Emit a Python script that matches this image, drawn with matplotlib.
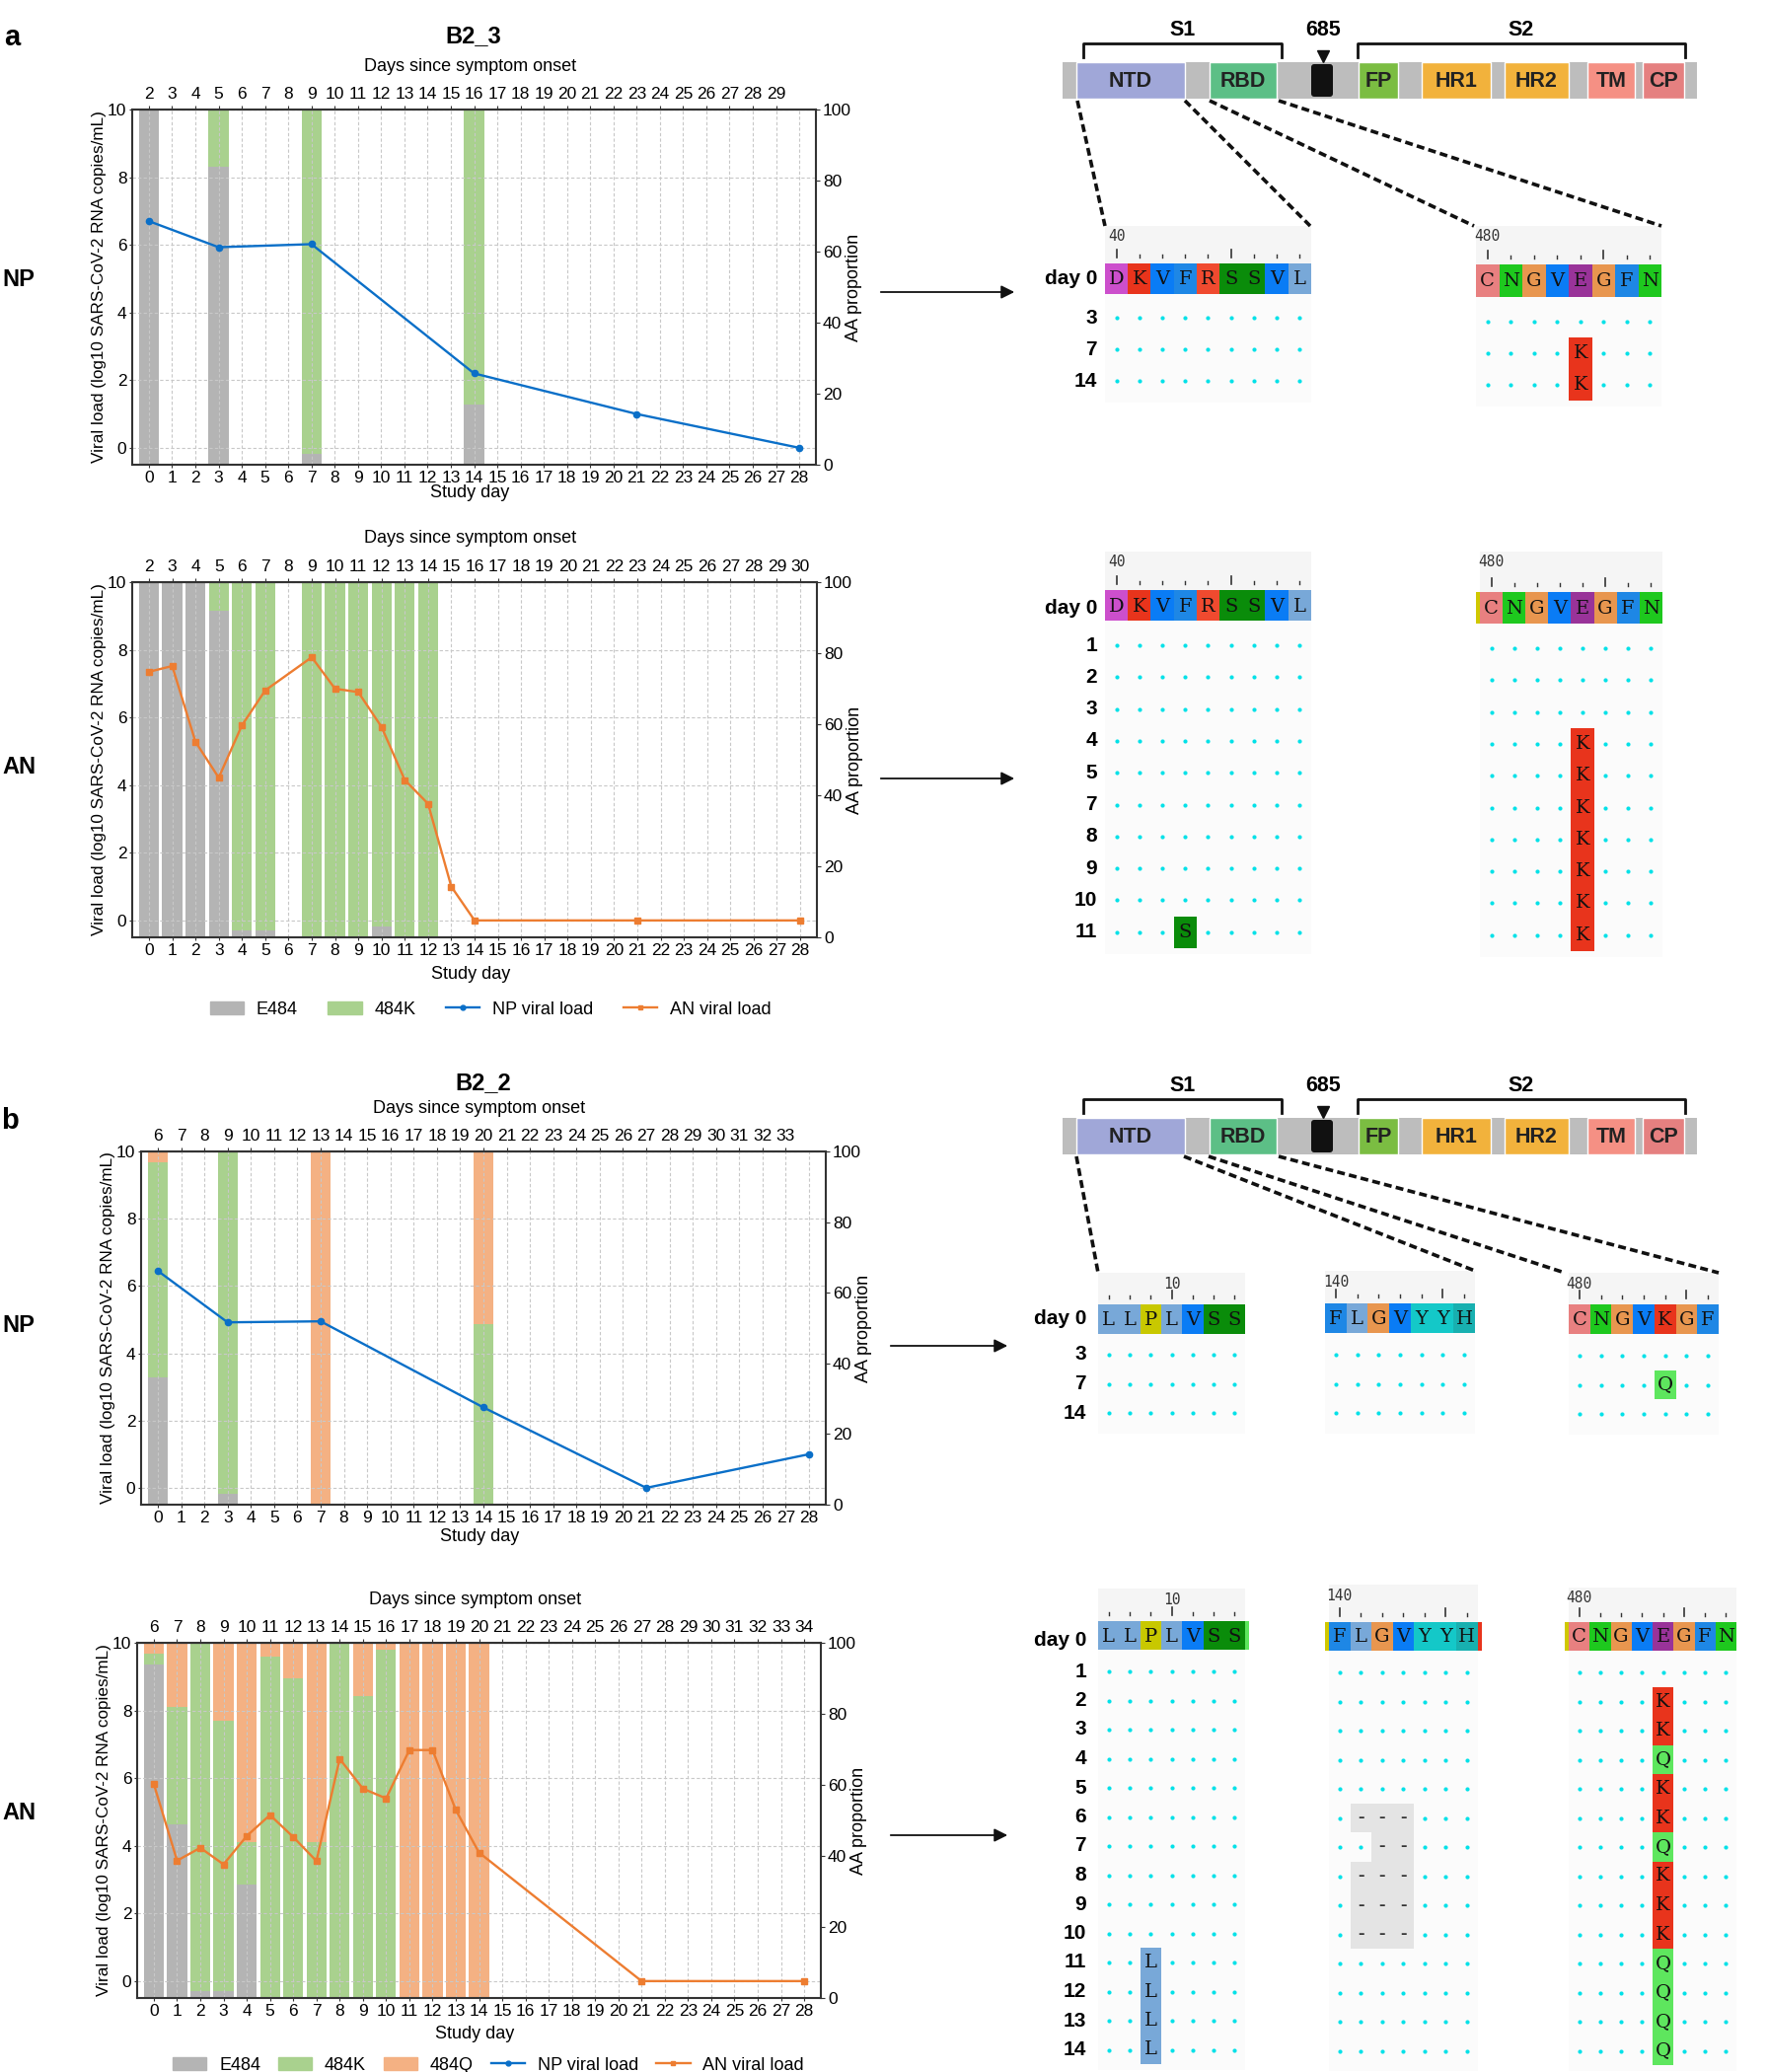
import matplotlib
matplotlib.use("Agg")
import matplotlib.pyplot as plt
from matplotlib.patches import Rectangle, Patch, FancyBboxPatch
from matplotlib.lines import Line2D

plt.rcParams["font.family"] = ["Liberation Sans", "DejaVu Sans"]

W, H = 1792, 2100

# ---------------- data: viral load / AA proportion ----------------
A_NP_DAYS = [0, 3, 7, 14, 21, 28]
A_NP_LOAD = [6.7, 5.93, 6.02, 2.2, 1.0, 0.0]
A_NP_BAR_DAYS = [0, 3, 7, 14]
A_NP_E484 = [100, 84, 3, 17]
A_NP_484K = [0, 16, 97, 83]
A_NP_ONSET = list(range(2, 30))

A_AN_DAYS = [0, 1, 2, 3, 4, 5, 7, 8, 9, 10, 11, 12, 13, 14, 21, 28]
A_AN_LOAD = [7.35, 7.52, 5.28, 4.22, 5.77, 6.8, 7.78, 6.85, 6.75, 5.72, 4.15, 3.45, 1.0, 0.0, 0.0, 0.0]
A_AN_BAR_DAYS = [0, 1, 2, 3, 4, 5, 7, 8, 9, 10, 11, 12]
A_AN_E484 = [100, 100, 100, 92, 2, 2, 0, 0, 0, 3, 0, 0]
A_AN_484K = [0, 0, 0, 8, 98, 98, 100, 100, 100, 97, 100, 100]
A_AN_ONSET = list(range(2, 31))

B_NP_DAYS = [0, 3, 7, 14, 21, 28]
B_NP_LOAD = [6.45, 4.92, 4.95, 2.39, 0.0, 1.0]
B_NP_BAR_DAYS = [0, 3, 7, 14]
B_NP_E484 = [36, 3, 0, 0]
B_NP_484K = [61, 97, 0, 51]
B_NP_484Q = [3, 0, 100, 49]
B_NP_ONSET = list(range(6, 34))

B_AN_DAYS = list(range(15)) + [21, 28]
B_AN_LOAD = [5.82, 3.56, 3.94, 3.45, 4.29, 4.91, 4.26, 3.55, 6.57, 5.69, 5.40,
             6.83, 6.83, 5.06, 3.80, 0.0, 0.0]
B_AN_BAR_DAYS = list(range(15))
B_AN_E484 = [94, 49, 2, 2, 32, 0, 0, 0, 0, 0, 0, 0, 0, 0, 0]
B_AN_484K = [3, 33, 98, 76, 12, 96, 90, 44, 100, 85, 98, 0, 0, 0, 0]
B_AN_484Q = [3, 18, 0, 22, 56, 4, 10, 56, 0, 15, 2, 100, 100, 100, 100]
B_AN_ONSET = list(range(6, 35))

# ---------------- data: alignments ----------------
DOMAINS = ["NTD", "RBD", "FP", "HR1", "HR2", "TM", "CP"]
DOMAIN_COLORS = ["#a0a7d8", "#5cbf86", "#7bbd42", "#f2b23c", "#f2b23c", "#f59084", "#e58080"]

A_NP_SEQ_DAYS = [3, 7, 14]
A_AN_SEQ_DAYS = [1, 2, 3, 4, 5, 7, 8, 9, 10, 11]
B_NP_SEQ_DAYS = [3, 7, 14]
B_AN_SEQ_DAYS = list(range(1, 15))

A_NTD_SEQ = "DKVFRSSVL"
A_RBD_SEQ = "CNGVEGFN"
B_SP_SEQ = "LLPLVSS"
B_NTD_SEQ = "FLGVYYH"
B_NP_RBD_SEQ = "CNGVKGF"
B_AN_RBD_SEQ = "CNGVEGFN"

A_NP_RBD_MUT = [(7, 4, "K"), (14, 4, "K")]
A_AN_NTD_MUT = [(11, 3, "S")]
A_AN_RBD_MUT = [(d, 4, "K") for d in (4, 5, 7, 8, 9, 10, 11)]
B_NP_RBD_MUT = [(7, 4, "Q")]
B_AN_SP_MUT = [(d, 2, "L") for d in (11, 12, 13, 14)]
B_AN_NTD_GAPS = [(6, 1), (6, 2), (6, 3), (7, 2), (7, 3), (8, 1), (8, 2), (8, 3),
                 (9, 1), (9, 2), (9, 3), (10, 1), (10, 2), (10, 3)]
B_AN_RBD_DAYS = list(range(2, 15))
B_AN_RBD_AA = list("KKQKKQKKKQQQQ")
B_AN_RBD_MUT = [(d, 4, a) for d, a in zip(B_AN_RBD_DAYS, B_AN_RBD_AA)]

AA_COLORS = {"D": "#cc4fcc", "K": "#e8341c", "V": "#0a7cf5", "F": "#1e87e5",
             "R": "#f04a2f", "S": "#0a8c0a", "L": "#78a8d8", "C": "#e88080",
             "N": "#1ec81e", "G": "#e8964f", "E": "#993399", "P": "#c8c800",
             "Y": "#14c8c8", "H": "#18b0b0", "Q": "#5ee65e"}

C_E484, C_484K, C_484Q = "#b4b4b4", "#a9d18e", "#f4b183"
C_NP, C_AN = "#0a6fc8", "#ed7d31"

fig = plt.figure(figsize=(W / 100, H / 100), dpi=100)


def frac(l, t, r, b):
    return [l / W, 1 - b / H, (r - l) / W, (b - t) / H]


ov = fig.add_axes([0, 0, 1, 1])
ov.set_xlim(0, W)
ov.set_ylim(H, 0)
ov.axis("off")


def chart(box, days, load, color, marker, bar_days, stacks, onset, study_off):
    l, t, r, b = box
    ax2 = fig.add_axes(frac(*box))
    ax = fig.add_axes(frac(*box), sharex=ax2)
    ax.patch.set_visible(False)
    bottom = [0] * len(bar_days)
    for vals, c in stacks:
        ax2.bar(bar_days, vals, width=0.86, bottom=bottom, color=c, linewidth=0)
        bottom = [p + v for p, v in zip(bottom, vals)]
    ax2.set_ylim(0, 100)
    ax2.yaxis.tick_right()
    ax2.yaxis.set_label_position("right")
    ax2.set_yticks(range(0, 101, 20))
    ax2.tick_params(axis="y", labelsize=12.5, length=3, pad=2, color="#333")
    ax2.tick_params(axis="x", bottom=False, labelbottom=False)
    for sp in ax2.spines.values():
        sp.set_visible(False)
    ax2.set_ylabel("AA proportion", fontsize=13)
    ax2.yaxis.set_label_coords(1.043, 0.5)

    ax.plot(days, load, color=color, lw=1.7, marker=marker, ms=4.5, zorder=5)
    ax.set_ylim(-0.5, 10)
    ax.set_xlim(-0.72, 28.72)
    ax.set_yticks(range(0, 11, 2))
    ax.set_xticks(range(29))
    ax.grid(True, color="#c8c8c8", ls=(0, (3, 2)), lw=0.8)
    ax.tick_params(axis="both", labelsize=12.5, length=2, pad=2, color="#333")
    for sp in ax.spines.values():
        sp.set_color("#333")
        sp.set_linewidth(1.5)
    ax.set_ylabel("Viral load (log10 SARS-CoV-2 RNA copies/mL)", fontsize=12.3)
    ax.yaxis.set_label_coords(-0.038, 0.5)

    sec = ax.secondary_xaxis("top")
    sec.set_xticks(range(len(onset)), labels=[str(v) for v in onset])
    sec.tick_params(labelsize=12.5, length=3, pad=3, color="#333")

    cx = (l + r) / 2
    ov.text(cx - 4, t - 44, "Days since symptom onset", ha="center", va="center", fontsize=13)
    ov.text(cx - 4, b + study_off, "Study day", ha="center", va="center", fontsize=13)
    return ax


chart((134, 111, 827, 471), A_NP_DAYS, A_NP_LOAD, C_NP, "o", A_NP_BAR_DAYS,
      [(A_NP_E484, C_E484), (A_NP_484K, C_484K)], A_NP_ONSET, 29)
chart((134, 590, 828, 950), A_AN_DAYS, A_AN_LOAD, C_AN, "s", A_AN_BAR_DAYS,
      [(A_AN_E484, C_E484), (A_AN_484K, C_484K)], A_AN_ONSET, 37)
chart((143, 1167, 837, 1525), B_NP_DAYS, B_NP_LOAD, C_NP, "o", B_NP_BAR_DAYS,
      [(B_NP_E484, C_E484), (B_NP_484K, C_484K), (B_NP_484Q, C_484Q)], B_NP_ONSET, 32)
chart((139, 1665, 832, 2025), B_AN_DAYS, B_AN_LOAD, C_AN, "s", B_AN_BAR_DAYS,
      [(B_AN_E484, C_E484), (B_AN_484K, C_484K), (B_AN_484Q, C_484Q)], B_AN_ONSET, 37)

ov.text(480, 37, "B2_3", ha="center", va="center", fontsize=17, fontweight="bold")
ov.text(490, 1098, "B2_2", ha="center", va="center", fontsize=17, fontweight="bold")
for x, y, s, fs in [(12, 38, "a", 21), (10, 1136, "b", 21), (19, 283, "NP", 17),
                    (19, 777, "AN", 17), (19, 1344, "NP", 17), (19, 1838, "AN", 17)]:
    ov.text(x, y, s, ha="center", va="center", fontsize=fs, fontweight="bold")

# legends
h_e = Patch(color=C_E484, label="E484")
h_k = Patch(color=C_484K, label="484K")
h_q = Patch(color=C_484Q, label="484Q")
h_np = Line2D([], [], color=C_NP, marker="o", ms=3.5, lw=1.7, label="NP viral load")
h_an = Line2D([], [], color=C_AN, marker="s", ms=3.5, lw=1.7, label="AN viral load")
fig.legend(handles=[h_e, h_k, h_np, h_an], loc="center", bbox_to_anchor=(497 / W, 1 - 1023 / H),
           ncol=4, frameon=False, fontsize=13, handlelength=1.9, handletextpad=0.7, columnspacing=1.7)
fig.legend(handles=[h_e, h_k, h_q, h_np, h_an], loc="center", bbox_to_anchor=(495 / W, 1 - 2093 / H),
           ncol=5, frameon=False, fontsize=13, handlelength=1.9, handletextpad=0.7, columnspacing=1.0)

# ---------------- spike schematic ----------------
DOMAIN_SPAN = [(1091, 1201), (1226, 1294), (1377, 1417), (1441, 1511), (1525, 1590), (1609, 1657), (1665, 1707)]


def spike(y0):
    bh = 37
    ov.add_patch(Rectangle((1077, y0), 1720 - 1077, bh, fc="#bdbdbd", ec="none"))
    for name, (xa, xb), col in zip(DOMAINS, DOMAIN_SPAN, DOMAIN_COLORS):
        ov.add_patch(Rectangle((xa, y0), xb - xa, bh, fc=col, ec="white", lw=1))
        ov.text((xa + xb) / 2, y0 + bh / 2 + 1, name, ha="center", va="center",
                fontsize=15.5, fontweight="bold", color="#222")
    ov.add_patch(FancyBboxPatch((1329, y0 + 2), 22, bh - 4, boxstyle="round,pad=0,rounding_size=3",
                                fc="#111", ec="none"))
    ov.plot([1341], [y0 - 6], marker="v", color="#111", ms=9)
    for (xa, xb), lab in [((1098, 1299), "S1"), ((1376, 1708), "S2")]:
        ov.plot([xa, xa, xb, xb], [y0 - 5, y0 - 19, y0 - 19, y0 - 5], color="#111", lw=2)
        ov.text((xa + xb) / 2, y0 - 32, lab, ha="center", va="center", fontsize=15.5, fontweight="bold")
    ov.text(1341, y0 - 32, "685", ha="center", va="center", fontsize=15.5, fontweight="bold")


def connectors(pairs):
    for (x1, y1), (x2, y2) in pairs:
        ov.plot([x1, x2], [y1, y2], color="#111", lw=2.6, ls=(0, (2.2, 1.2)))


def block(x0, cw, seq, head_top, seq_top, seq_h, rows_y, days, label, label_idx, big,
          muts=(), gaps=(), slivers=()):
    n = len(seq)
    wd = n * cw
    step = rows_y[1] - rows_y[0]
    ov.add_patch(Rectangle((x0, seq_top), wd, rows_y[-1] + step / 2 + 6 - seq_top, fc="#fbfbfb", ec="none"))
    ov.add_patch(Rectangle((x0, head_top), wd, seq_top - head_top, fc="#f5f5f5", ec="none"))
    ov.text(x0 + (label_idx + 0.5) * cw, head_top + 11, label, ha="center", va="center",
            fontsize=10.5, family="DejaVu Sans Mono", color="#333")
    for c in range(n):
        cx = x0 + (c + 0.5) * cw
        if c in big:
            ov.plot([cx, cx], [seq_top - 14, seq_top - 6], color="#333", lw=1.2)
        else:
            ov.plot([cx, cx], [seq_top - 9, seq_top - 6], color="#333", lw=1)
        ov.add_patch(Rectangle((x0 + c * cw, seq_top), cw, seq_h, fc=AA_COLORS[seq[c]], ec="none"))
        ov.text(cx, seq_top + seq_h / 2 + 1, seq[c], ha="center", va="center",
                fontsize=14, family="DejaVu Serif", color="#111")
    for side, col in slivers:
        sx = x0 - 4 if side == "left" else x0 + wd
        ov.add_patch(Rectangle((sx, seq_top), 4, seq_h, fc=col, ec="none"))
    mut = {(d, c): a for d, c, a in muts}
    gap = set(gaps)
    for d, y in zip(days, rows_y):
        for c in range(n):
            cx = x0 + (c + 0.5) * cw
            if (d, c) in mut:
                a = mut[(d, c)]
                ov.add_patch(Rectangle((x0 + c * cw, y - step / 2), cw, step, fc=AA_COLORS[a], ec="none"))
                ov.text(cx, y, a, ha="center", va="center", fontsize=14, family="DejaVu Serif", color="#111")
            elif (d, c) in gap:
                ov.add_patch(Rectangle((x0 + c * cw, y - step / 2), cw, step, fc="#e4e4e4", ec="none"))
                ov.text(cx, y, "-", ha="center", va="center", fontsize=14, fontweight="bold", color="#333")
            else:
                ov.plot([cx], [y], marker="o", ms=3.0, color="#00e1e8", mec="none")


def day_labels(x, y0, rows_y, days):
    ov.text(x, y0, "day 0", ha="right", va="center", fontsize=15, fontweight="bold")
    for d, y in zip(days, rows_y):
        ov.text(x, y, str(d), ha="right", va="center", fontsize=15, fontweight="bold")


def rows(first, step, days):
    return [first + step * i for i in range(len(days))]


def arrow(x1, x2, y):
    ov.annotate("", xy=(x2, y), xytext=(x1, y),
                arrowprops=dict(arrowstyle="-|>", color="#111", lw=1.3, mutation_scale=20))


# panel a, NP
spike(63)
ry = rows(322, 32, A_NP_SEQ_DAYS)
day_labels(1112, 283, ry, A_NP_SEQ_DAYS)
block(1120, 23.2, A_NTD_SEQ, 229, 267, 31, ry, A_NP_SEQ_DAYS, "40", 0, [0, 5])
block(1496, 23.5, A_RBD_SEQ, 229, 268, 33, [y + 4 for y in ry], A_NP_SEQ_DAYS, "480", 0, [0, 5],
      muts=A_NP_RBD_MUT)
connectors([((1092, 102), (1120, 229)), ((1201, 102), (1328, 229)),
            ((1226, 102), (1494, 229)), ((1296, 102), (1684, 229))])
arrow(890, 1031, 296)

# panel a, AN
ry = rows(654, 32.3, A_AN_SEQ_DAYS)
day_labels(1112, 616, ry, A_AN_SEQ_DAYS)
block(1120, 23.2, A_NTD_SEQ, 559, 598, 31, ry, A_AN_SEQ_DAYS, "40", 0, [0, 5], muts=A_AN_NTD_MUT)
block(1500, 23.1, A_RBD_SEQ, 559, 600, 32, [y + 3 for y in ry], A_AN_SEQ_DAYS, "480", 0, [0, 5],
      muts=A_AN_RBD_MUT, slivers=[("left", "#d0c800")])
arrow(890, 1031, 789)

# panel b, NP
spike(1133)
ry = rows(1373, 29.5, B_NP_SEQ_DAYS)
day_labels(1101, 1337, ry, B_NP_SEQ_DAYS)
block(1113, 21.3, B_SP_SEQ, 1290, 1322, 30, ry, B_NP_SEQ_DAYS, "10", 3, [3])
block(1343, 21.7, B_NTD_SEQ, 1288, 1321, 30, ry, B_NP_SEQ_DAYS, "140", 0, [0, 5])
block(1590, 21.7, B_NP_RBD_SEQ, 1290, 1322, 30, [y + 1 for y in ry], B_NP_SEQ_DAYS, "480", 0, [0, 5],
      muts=B_NP_RBD_MUT)
connectors([((1091, 1172), (1113, 1290)), ((1200, 1172), (1495, 1288)),
            ((1225, 1172), (1586, 1290)), ((1296, 1172), (1742, 1290))])
arrow(900, 1024, 1364)

# panel b, AN
ry = rows(1694, 29.5, B_AN_SEQ_DAYS)
day_labels(1101, 1662, ry, B_AN_SEQ_DAYS)
block(1113, 21.3, B_SP_SEQ, 1610, 1643, 29, ry, B_AN_SEQ_DAYS, "10", 3, [3],
      muts=B_AN_SP_MUT, slivers=[("right", "#5ee65e")])
block(1347, 21.5, B_NTD_SEQ, 1606, 1644, 29, [y + 1 for y in ry], B_AN_SEQ_DAYS, "140", 0, [0, 5],
      gaps=B_AN_NTD_GAPS, slivers=[("left", "#d0c800"), ("right", "#e8341c")])
block(1590, 21.25, B_AN_RBD_SEQ, 1609, 1644, 29, [y + 1 for y in ry], B_AN_SEQ_DAYS, "480", 0, [0, 5],
      muts=B_AN_RBD_MUT, slivers=[("left", "#d0c800")])
arrow(900, 1024, 1860)

fig.savefig("out.png", dpi=100)
